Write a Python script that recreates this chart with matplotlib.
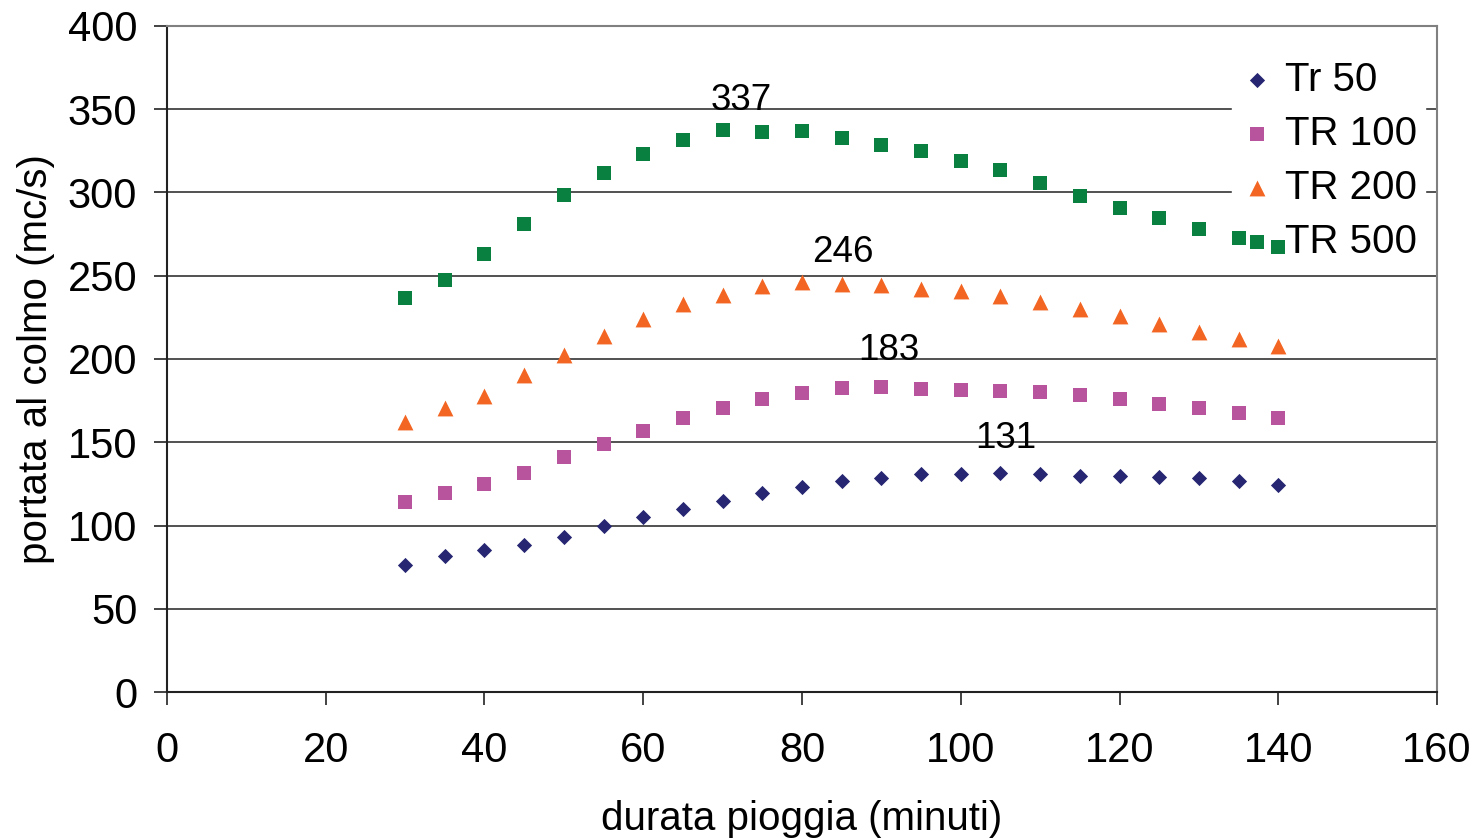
import matplotlib.pyplot as plt

plt.rcParams['font.family'] = ['Liberation Sans', 'DejaVu Sans']

# durata pioggia (minuti)
durate = [30, 35, 40, 45, 50, 55, 60, 65, 70, 75, 80, 85,
          90, 95, 100, 105, 110, 115, 120, 125, 130, 135, 140]

# portata al colmo (mc/s)
tr50 = [76.3, 81.5, 85.1, 88.5, 93.1, 99.5, 104.9, 109.9, 114.5, 119.3, 123.3, 126.9,
        128.7, 130.7, 130.9, 131.3, 130.7, 129.9, 129.9, 129.1, 128.5, 126.5, 124.5]
tr100 = [114.1, 119.7, 125.1, 131.3, 141.1, 149.1, 157.0, 164.4, 170.6, 176.2, 179.8, 182.6,
         183.2, 182.0, 181.6, 180.8, 180.4, 178.6, 176.0, 173.2, 170.6, 167.6, 164.4]
tr200 = [162.0, 170.4, 177.6, 190.6, 202.6, 213.6, 224.0, 233.2, 238.6, 243.6, 246.0, 244.8,
         244.6, 242.0, 240.6, 238.0, 234.0, 230.0, 225.6, 221.0, 216.4, 212.0, 207.6]
tr500 = [236.8, 247.6, 263.2, 281.1, 298.5, 311.9, 323.1, 331.5, 337.5, 336.3, 336.9, 332.9,
         328.5, 324.7, 318.9, 313.7, 305.9, 298.1, 290.9, 284.5, 277.9, 272.9, 267.1]

# etichette dei massimi
etichette = ['337', '246', '183', '131']
etichette_x = [72.3, 85.2, 91.0, 105.7]
etichette_y = [355.5, 264.0, 205.4, 152.0]

fig = plt.figure(figsize=(14.76, 8.38), dpi=100)
ax = fig.add_axes([0.1131, 0.1742, 0.8605, 0.7948])

ax.scatter(durate, tr50, marker='D', s=60, color='#262673', label='Tr 50', zorder=6, linewidths=0)
ax.scatter(durate, tr100, marker='s', s=110, color='#b8549e', label='TR 100', zorder=6, linewidths=0)
ax.scatter(durate, tr200, marker='^', s=130, color='#f26522', label='TR 200', zorder=6, linewidths=0)
ax.scatter(durate, tr500, marker='s', s=110, color='#0a8040', label='TR 500', zorder=6, linewidths=0)

for testo, xx, yy in zip(etichette, etichette_x, etichette_y):
    ax.text(xx, yy, testo, fontsize=26.5, ha='center', va='center', zorder=7)

ax.set_xlim(0, 160)
ax.set_ylim(0, 400)
ax.set_xticks(range(0, 161, 20))
ax.set_yticks(range(0, 401, 50))
ax.tick_params(axis='both', labelsize=30, direction='out', length=9.4, width=1.2, color='#222222')
ax.tick_params(axis='x', pad=18.5)
ax.tick_params(axis='y', pad=12)

ax.grid(axis='y', color='#333333', linewidth=1.2)
ax.set_axisbelow(True)

ax.spines['left'].set_color('#222222')
ax.spines['bottom'].set_color('#222222')
ax.spines['top'].set_color('#808080')
ax.spines['right'].set_color('#808080')
for s in ax.spines.values():
    s.set_linewidth(1.5)

ax.set_xlabel('durata pioggia (minuti)', fontsize=29, labelpad=21)
ax.set_ylabel('portata al colmo (mc/s)', fontsize=29, labelpad=9)

leg = ax.legend(loc='upper right', bbox_to_anchor=(0.9905, 0.96), fontsize=29, frameon=True,
                framealpha=1, edgecolor='white', fancybox=False, handletextpad=0.3,
                borderpad=0.2, labelspacing=0.4, handlelength=0.8, borderaxespad=0)
leg.set_zorder(5)

fig.savefig('out.png', dpi=100)
